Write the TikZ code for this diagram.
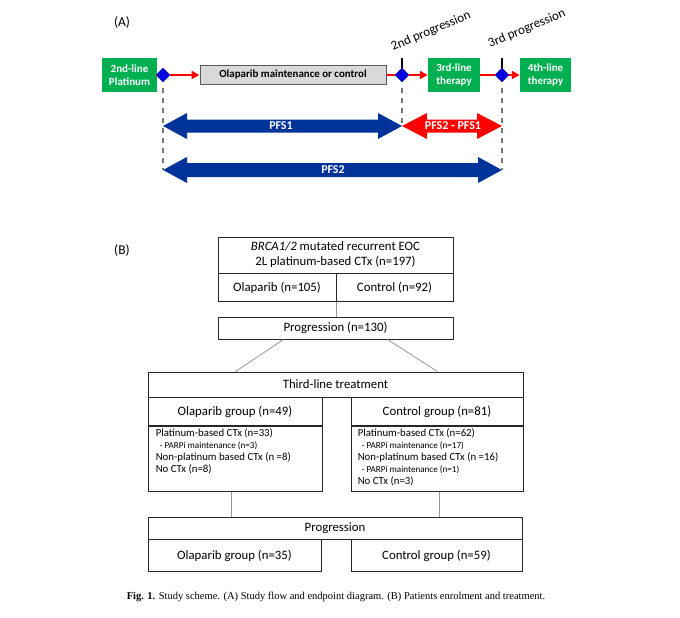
\documentclass[tikz,border=0pt]{standalone}
\usepackage{fontspec}
\setmainfont{Carlito}
\newfontfamily\capfont{Liberation Serif}
\usetikzlibrary{shapes.geometric,arrows.meta}
\definecolor{boxgreen}{RGB}{0,176,80}
\definecolor{pfsblue}{RGB}{0,51,153}
\definecolor{pfsred}{RGB}{255,0,0}
\definecolor{diablue}{RGB}{0,0,225}
\definecolor{greyfill}{RGB}{217,217,217}
\definecolor{greyline}{RGB}{89,89,89}
\definecolor{linkgrey}{RGB}{150,150,150}
\definecolor{dashgrey}{RGB}{120,120,120}
\tikzset{
greenbox/.style={fill=boxgreen, text=white, font=\fontsize{11}{13}\selectfont\bfseries, align=center, inner sep=0pt},
greybox/.style={fill=greyfill, draw=greyline, line width=1pt, font=\fontsize{10.9}{13}\selectfont\bfseries, inner sep=0pt},
dia/.style={diamond, fill=diablue, draw=diablue!70!black, line width=0.4pt, minimum width=14pt, minimum height=14pt, inner sep=0pt},
redline/.style={draw=pfsred, line width=2pt},
redarrow/.style={redline, -{Triangle[length=8pt,width=8pt]}},
tickline/.style={line width=1.2pt},
dashline/.style={draw=dashgrey, line width=1.2pt, dash pattern={on 5pt off 5pt}},
pfstext/.style={text=white, font=\fontsize{12}{14}\selectfont\bfseries, inner sep=0pt},
proglabel/.style={font=\fontsize{13}{15}\selectfont, inner sep=0pt},
box/.style={draw=black!85, line width=0.9pt, font=\fontsize{12.8}{15}\selectfont, inner sep=0pt, align=center},
listtext/.style={font=\fontsize{10.8}{12}\selectfont, align=left, inner sep=0pt, anchor=north west},
link/.style={draw=linkgrey, line width=0.8pt}}
\newcommand{\parpline}[1]{{\fontsize{9.1}{12}\selectfont\hspace*{4pt}- PARPi maintenance (#1)}}

\begin{document}
\begin{tikzpicture}[x=1pt,y=1pt,yscale=-1,xscale=1]
\useasboundingbox (0,0) rectangle (680,618);

% Panel labels
\node[font=\fontsize{13.5}{15}\selectfont, inner sep=0pt] (labA) at (122,22) {(A)};
\node[font=\fontsize{13.5}{15}\selectfont, inner sep=0pt] (labB) at (122,250) {(B)};

%Shape: Flow boxes (A)
\node[greenbox, minimum width=55, minimum height=34] (plat) at (129.5,75) {2nd-line\\Platinum};
\node[dia] (d1) at (163,75) {};
\node[greybox, minimum width=186, minimum height=19] (maint) at (293,75) {Olaparib maintenance or control};
\node[dia] (d2) at (402,75) {};
\node[greenbox, minimum width=52, minimum height=34] (thirdA) at (454,75) {3rd-line\\therapy};
\node[dia] (d3) at (502,75) {};
\node[greenbox, minimum width=51, minimum height=34] (fourth) at (545.5,75) {4th-line\\therapy};

%Straight Lines: red flow
\draw[redline] (plat.east) -- (d1.west);
\draw[redarrow] (d1.east) -- (maint.west);
\draw[redline] (maint.east) -- (d2.west);
\draw[redarrow] (d2.east) -- (thirdA.west);
\draw[redline] (thirdA.east) -- (d3.west);
\draw[redarrow] (d3.east) -- (fourth.west);

%Straight Lines: progression ticks
\coordinate (t2) at (402,58);
\coordinate (t3) at (502,58);
\draw[tickline] (d2.north) -- (t2);
\draw[tickline] (d3.north) -- (t3);
\node[proglabel, anchor=base west, rotate=23] (prog2nd) at (393,51) {2nd progression};
\node[proglabel, anchor=base west, rotate=23] (prog3rd) at (490,48) {3rd progression};

%Shape: PFS arrows
\fill[pfsblue] (163,126) -- (187,113) -- (187,119.5) -- (378,119.5) -- (378,113) -- (402,126) -- (378,139) -- (378,132.5) -- (187,132.5) -- (187,139) -- cycle;
\fill[pfsred] (402,126) -- (427,113) -- (427,119.5) -- (477,119.5) -- (477,113) -- (502,126) -- (477,139) -- (477,132.5) -- (427,132.5) -- (427,139) -- cycle;
\fill[pfsblue] (163,170) -- (187,157) -- (187,163) -- (478,163) -- (478,157) -- (502,170) -- (478,183) -- (478,177) -- (187,177) -- (187,183) -- cycle;
\node[pfstext] (pfs1) at (281,126) {PFS1};
\node[pfstext] (pfsdiff) at (453,126) {PFS2 - PFS1};
\node[pfstext] (pfs2) at (333,170) {PFS2};

%Straight Lines: dashed markers
\draw[dashline] ([yshift=6]d1.south) -- (d1 |- pfs2);
\draw[dashline] ([yshift=6]d2.south) -- (d2 |- pfs1);
\draw[dashline] ([yshift=6]d3.south) -- (d3 |- pfs2);

%Shape: Enrolment boxes (B)
\node[box, minimum width=235, minimum height=36] (enrol) at (335.5,255) {\textit{BRCA1/2} mutated recurrent EOC\\2L platinum-based CTx (n=197)};
\node[box, minimum width=118, minimum height=28, anchor=north west] (olap) at (enrol.south west) {Olaparib (n=105)};
\node[box, minimum width=117, minimum height=28, anchor=north east] (ctrl) at (enrol.south east) {Control (n=92)};
\node[box, minimum width=235, minimum height=22] (prog1) at (335.5,328) {Progression (n=130)};

%Shape: Third-line boxes
\node[box, minimum width=375, minimum height=25] (third) at (335.5,384.5) {Third-line treatment};
\node[box, minimum width=174, minimum height=28, anchor=north west] (olgrp) at (third.south west) {Olaparib group (n=49)};
\node[box, minimum width=172, minimum height=28, anchor=north east] (ctgrp) at (third.south east) {Control group (n=81)};
\node[box, minimum width=174, minimum height=65, anchor=north] (olbody) at (olgrp.south) {};
\node[box, minimum width=172, minimum height=65, anchor=north] (ctbody) at (ctgrp.south) {};
\node[listtext] (oltxt) at ([xshift=8,yshift=2.5]olbody.north west) {Platinum-based CTx (n=33)\\\parpline{n=3}\\Non-platinum based CTx (n =8)\\No CTx (n=8)};
\node[listtext] (cttxt) at ([xshift=7,yshift=2.5]ctbody.north west) {Platinum-based CTx (n=62)\\\parpline{n=17}\\Non-platinum based CTx (n =16)\\\parpline{n=1}\\No CTx (n=3)};

%Shape: Progression boxes
\node[box, minimum width=374, minimum height=22] (prog2) at (335,528) {Progression};
\node[box, minimum width=173, minimum height=32, anchor=north west] (olprog) at (prog2.south west) {Olaparib group (n=35)};
\node[box, minimum width=171, minimum height=32, anchor=north east] (ctprog) at (prog2.south east) {Control group (n=59)};

%Straight Lines: links
\draw[link] (olap.south east) -- (olap.south east |- prog1.north);
\draw[link] ([xshift=-52]prog1.south) -- ([xshift=-100]third.north);
\draw[link] ([xshift=52]prog1.south) -- ([xshift=102]third.north);
\draw[link] ([xshift=-4]olbody.south) -- ([xshift=-4]olbody.south |- prog2.north);
\draw[link] ([xshift=2]ctbody.south) -- ([xshift=2]ctbody.south |- prog2.north);

% Text Node: caption
\node[font=\capfont\fontsize{10.5}{12}\selectfont, inner sep=0pt] (caption) at (336,597) {\textbf{Fig. 1.} Study scheme. (A) Study flow and endpoint diagram. (B) Patients enrolment and treatment.};

\end{tikzpicture}
\end{document}
